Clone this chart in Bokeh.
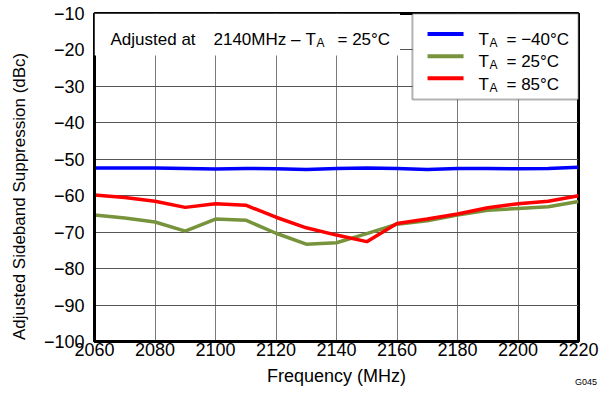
from bokeh.plotting import figure
from bokeh.models import FixedTicker, Label, BoxAnnotation, ColumnDataSource, Div
from bokeh.layouts import column
from bokeh.embed import file_html
from bokeh.resources import INLINE

# ---------------- data ----------------
freq_mhz = [2060, 2070, 2080, 2090, 2100, 2110, 2120, 2130, 2140,
            2150, 2160, 2170, 2180, 2190, 2200, 2210, 2220]
ta_m40 = [-52.4, -52.4, -52.4, -52.5, -52.7, -52.5, -52.6, -52.8, -52.5,
          -52.4, -52.5, -52.8, -52.5, -52.5, -52.6, -52.5, -52.2]
ta_25 = [-65.3, -66.1, -67.2, -69.7, -66.4, -66.7, -70.3, -73.3, -72.9,
         -70.4, -67.8, -66.9, -65.3, -64.0, -63.5, -63.0, -61.6]
ta_85 = [-59.8, -60.5, -61.5, -63.2, -62.2, -62.6, -65.9, -68.8, -70.8,
         -72.6, -67.6, -66.4, -65.0, -63.3, -62.2, -61.5, -60.0]

series_names = ["\u221240\u00b0C", "25\u00b0C", "85\u00b0C"]
series_colors = ["#0000FF", "#77933C", "#FF0000"]

x_ticks = [2060, 2080, 2100, 2120, 2140, 2160, 2180, 2200, 2220]
x_tick_labels = ["2060", "2080", "2100", "2120", "2140", "2160", "2180", "2200", "2220"]
y_ticks = [-100, -90, -80, -70, -60, -50, -40, -30, -20, -10]
y_tick_labels = ["\u2212100", "\u221290", "\u221280", "\u221270", "\u221260",
                 "\u221250", "\u221240", "\u221230", "\u221220", "\u221210"]

x_title = "Frequency (MHz)"
y_title = "Adjusted Sideband Suppression (dBc)"
note_parts = ["Adjusted at", "2140MHz \u2013", "T", "A", "= 25\u00b0C"]
fig_id = "G045"

FONT = "Liberation Sans"

# ---------------- figure ----------------
W, H = 607, 393
FL, FT, FR, FB = 94, 13, 578, 341  # frame edges in page pixels
p = figure(width=W, height=H, x_range=(2060, 2220), y_range=(-100, -10),
           output_backend="svg", toolbar_location=None,
           min_border_left=FL, min_border_right=W - FR, min_border_top=FT,
           min_border_bottom=H - FB)
p.outline_line_color = "black"
p.outline_line_width = 3
p.background_fill_color = "white"
p.border_fill_color = "white"

p.xaxis.ticker = FixedTicker(ticks=x_ticks)
p.yaxis.ticker = FixedTicker(ticks=y_ticks)
p.xaxis.major_label_overrides = dict(zip(x_ticks, x_tick_labels))
p.yaxis.major_label_overrides = dict(zip(y_ticks, y_tick_labels))
for ax in (p.xaxis, p.yaxis):
    ax.major_tick_out = 0
    ax.major_tick_in = 0
    ax.minor_tick_out = 0
    ax.minor_tick_in = 0
    ax.axis_line_color = "black"
    ax.axis_line_width = 3
    ax.major_label_text_font = FONT
    ax.major_label_text_font_size = "18px"
    ax.major_label_text_color = "black"
    ax.axis_label_text_font = FONT
    ax.axis_label_text_font_style = "normal"
    ax.axis_label_text_color = "black"
p.xaxis.major_label_standoff = 1
p.yaxis.major_label_standoff = 10
p.xaxis.axis_label = x_title
p.xaxis.axis_label_text_font_size = "18px"
p.xaxis.axis_label_standoff = 7
# pad with no-break spaces so the rotated title sits slightly lower, as in the original
p.yaxis.axis_label = y_title + "\u00a0" * 8
p.yaxis.axis_label_text_font_size = "17px"
p.yaxis.axis_label_standoff = 12

p.xgrid.ticker = FixedTicker(ticks=x_ticks)
p.ygrid.ticker = FixedTicker(ticks=y_ticks)
p.xgrid.grid_line_color = "#7a7a7a"
p.ygrid.grid_line_color = "#555555"
p.xgrid.grid_line_width = 1
p.ygrid.grid_line_width = 1

src = ColumnDataSource(dict(f=freq_mhz, a=ta_m40, b=ta_25, c=ta_85))
for col, color in zip(["a", "b", "c"], series_colors):
    p.line("f", col, source=src, line_color=color, line_width=3.5)

# annotation box (top-left, white, no border)
p.add_layout(BoxAnnotation(left=2060, right=2161, top=-10, bottom=-21.5,
                           fill_color="white", fill_alpha=1.0, line_color=None))
# legend box
p.add_layout(BoxAnnotation(left=2165.1, right=2220, top=-10, bottom=-33.6,
                           fill_color="white", fill_alpha=1.0,
                           line_color="black", line_width=2))

# legend samples (drawn above the legend box)
leg_y = [-15.6, -21.7, -27.8]
for yy, color in zip(leg_y, series_colors):
    p.segment(x0=[2170.1], x1=[2182.0], y0=[yy], y1=[yy],
              line_color=color, line_width=4, level="overlay")


def lab(text, xi, yi, size, align="left", baseline="alphabetic"):
    p.add_layout(Label(x=xi - FL, y=FB - yi, x_units="screen", y_units="screen",
                       text=text, text_font=FONT, text_font_size=size,
                       text_color="black", text_align=align,
                       text_baseline=baseline))


# legend texts: T_A = ...
for name, yb in zip(series_names, [38.5, 61.0, 83.5]):
    lab("T", 478, yb, "17px")
    lab("A", 489, yb + 3.5, "12px")
    lab("= " + name, 506, yb, "17px")

# annotation text
lab(note_parts[0], 110, 38.5, "17px")
lab(note_parts[1], 213, 38.5, "17px")
lab(note_parts[2], 305, 38.5, "17px")
lab(note_parts[3], 316, 42.0, "12px")
lab(note_parts[4], 337, 38.5, "17px")

# figure id, bottom-right corner (overlaid on the plot's lower border)
tag = Div(text=fig_id, width=30, height=12, margin=(-17, 0, 0, 575),
          styles={"font-family": FONT, "font-size": "9px", "color": "black",
                  "line-height": "12px"})

open("out.html", "w").write(file_html(column(p, tag), INLINE))
